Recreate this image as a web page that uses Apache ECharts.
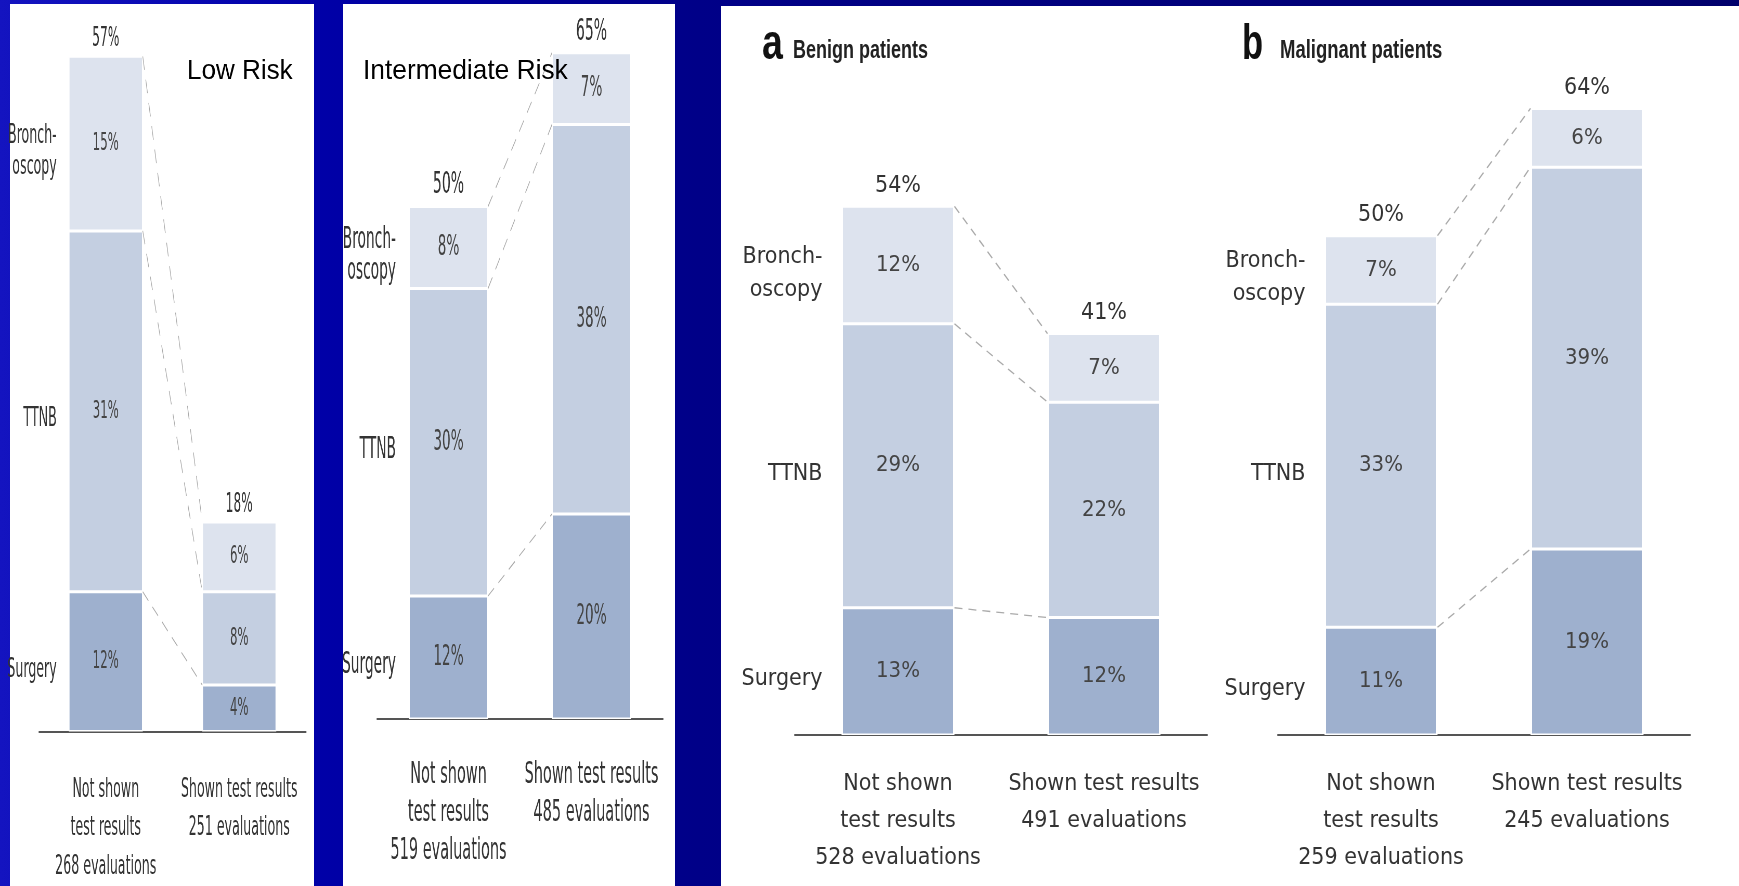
<!DOCTYPE html>
<html>
<head>
<meta charset="utf-8">
<script src="https://cdn.jsdelivr.net/npm/echarts@6/dist/echarts.min.js"></script>
<style>
  html, body { margin: 0; padding: 0; }
  #main { position: absolute; left: 0; top: 0; width: 1739px; height: 886px; }
  /* the two left figures are condensed pictures on the slide */
  #left { position: absolute; left: 0; top: 0; width: 1298px; height: 886px;
          transform: scaleX(0.52); transform-origin: 0 0; }
</style>
</head>
<body>
<div id="main"></div>
<div id="left"></div>
<script>
// row names (left of first bar)
var rowNames = ['Surgery', 'TTNB', 'Bronch-\noscopy'];

// Low Risk
var lowCats = ['Not shown\ntest results\n268 evaluations', 'Shown test results\n251 evaluations'];
var lowSurgery = [12, 4];
var lowTTNB = [31, 8];
var lowBronch = [15, 6];
var lowTotal = [57, 18];

// Intermediate Risk
var midCats = ['Not shown\ntest results\n519 evaluations', 'Shown test results\n485 evaluations'];
var midSurgery = [12, 20];
var midTTNB = [30, 38];
var midBronch = [8, 7];
var midTotal = [50, 65];

// a Benign patients
var benignCats = ['Not shown\ntest results\n528 evaluations', 'Shown test results\n491 evaluations'];
var benignSurgery = [13, 12];
var benignTTNB = [29, 22];
var benignBronch = [12, 7];
var benignTotal = [54, 41];

// b Malignant patients
var malignCats = ['Not shown\ntest results\n259 evaluations', 'Shown test results\n245 evaluations'];
var malignSurgery = [11, 19];
var malignTTNB = [33, 39];
var malignBronch = [7, 6];
var malignTotal = [50, 64];

var colors = ['#9eb0ce', '#c4cfe1', '#dde3ee'];
var narrow = "'Liberation Sans Narrow', 'DejaVu Sans Condensed', sans-serif";
var arial = "'Liberation Sans', Arial, sans-serif";
var sq = 0.52; // horizontal squeeze of the left div

// layout of each panel (left ones in un-squeezed px)
var leftPanels = [
  {cats: lowCats, segs: [lowSurgery, lowTTNB, lowBronch], tot: lowTotal,
   left: 39 / sq, width: 267 / sq, base: 732, scale: 11.65, max: 60, barW: 74 / sq,
   fs: 25, totFs: 26, catFs: 27, rowFs: 27, lh: 38.5, margin: 39, rowDist: 12 / sq, rowLh: 31, totDist: 4},
  {cats: midCats, segs: [midSurgery, midTTNB, midBronch], tot: midTotal,
   left: 377 / sq, width: 286 / sq, base: 719, scale: 10.25, max: 68, barW: 79 / sq,
   fs: 29, totFs: 30, catFs: 31, rowFs: 29.5, lh: 38, margin: 37, rowDist: 13 / sq, rowLh: 31, totDist: 6}
];
var rightPanels = [
  {cats: benignCats, segs: [benignSurgery, benignTTNB, benignBronch], tot: benignTotal,
   left: 795, width: 412, base: 735, scale: 9.79, max: 72, barW: 113,
   fs: 22, totFs: 23, catFs: 23, rowFs: 23, lh: 37, margin: 31, rowDist: 19, rowLh: 33, totDist: 9},
  {cats: malignCats, segs: [malignSurgery, malignTTNB, malignBronch], tot: malignTotal,
   left: 1278, width: 412, base: 735, scale: 9.79, max: 72, barW: 113,
   fs: 22, totFs: 23, catFs: 23, rowFs: 23, lh: 37, margin: 31, rowDist: 19, rowLh: 33, totDist: 9}
];

function connector(halfW, dash) {
  return function (params, api) {
    var p1 = api.coord([0, api.value(1)]);
    var p2 = api.coord([1, api.value(2)]);
    return {
      type: 'line',
      shape: {x1: p1[0] + halfW, y1: p1[1], x2: p2[0] - halfW, y2: p2[1]},
      style: {stroke: '#aaaaaa', lineWidth: 1.3, lineDash: dash}
    };
  };
}

function build(panels, dash) {
  var grids = [], xAxes = [], yAxes = [], series = [];
  panels.forEach(function (p, k) {
    var h = p.max * p.scale;
    grids.push({left: p.left, width: p.width, top: p.base - h, height: h});
    xAxes.push({
      type: 'category', gridIndex: k, data: p.cats,
      axisLine: {lineStyle: {color: '#555', width: 2}},
      axisTick: {show: false},
      axisLabel: {color: '#333', fontFamily: narrow, fontSize: p.catFs, lineHeight: p.lh,
                  margin: p.margin, interval: 0}
    });
    yAxes.push({type: 'value', gridIndex: k, min: 0, max: p.max, show: false});

    p.segs.forEach(function (vals, j) {
      series.push({
        type: 'bar', xAxisIndex: k, yAxisIndex: k, stack: 'main' + k,
        barWidth: p.barW, barGap: '-100%', data: vals,
        itemStyle: {color: colors[j], borderColor: '#fff', borderWidth: 1.5},
        label: {show: true, position: 'inside', color: '#444', fontFamily: narrow,
                fontSize: p.fs, formatter: '{c}%'}
      });
      // invisible copy that carries the row name left of the first bar
      series.push({
        type: 'bar', xAxisIndex: k, yAxisIndex: k, stack: 'names' + k,
        barWidth: p.barW, barGap: '-100%', data: vals, silent: true,
        itemStyle: {color: 'rgba(0,0,0,0)'},
        label: {show: true, position: 'left', distance: p.rowDist, offset: [0, 8], color: '#333',
                fontFamily: narrow, fontSize: p.rowFs, lineHeight: p.rowLh, align: 'right',
                formatter: function (q) { return q.dataIndex === 0 ? rowNames[j] : ''; }}
      });
    });

    // totals above the stacks
    series.push({
      type: 'bar', xAxisIndex: k, yAxisIndex: k, stack: 'main' + k,
      barWidth: p.barW, barGap: '-100%', data: [0, 0],
      itemStyle: {color: 'rgba(0,0,0,0)'},
      label: {show: true, position: 'top', distance: p.totDist, color: '#333',
              fontFamily: narrow, fontSize: p.totFs,
              formatter: function (q) { return p.tot[q.dataIndex] + '%'; }}
    });

    // dashed connectors between the segment tops
    var s = p.segs;
    var lv0 = [s[0][0], s[0][0] + s[1][0], s[0][0] + s[1][0] + s[2][0]];
    var lv1 = [s[0][1], s[0][1] + s[1][1], s[0][1] + s[1][1] + s[2][1]];
    series.push({
      type: 'custom', xAxisIndex: k, yAxisIndex: k, silent: true, z: 5,
      renderItem: connector(p.barW / 2, dash),
      encode: {x: 0, y: 1},
      data: lv0.map(function (v, i) { return [0, v, lv1[i]]; })
    });
  });
  return {grid: grids, xAxis: xAxes, yAxis: yAxes, series: series};
}

var mainChart = echarts.init(document.getElementById('main'));
var mainOpt = build(rightPanels, [8, 6]);
mainOpt.animation = false;
mainOpt.graphic = [
  {type: 'rect', z: -10, shape: {x: 0, y: 0, width: 1739, height: 886},
   style: {fill: new echarts.graphic.LinearGradient(0, 0, 1, 0, [
     {offset: 0, color: '#1414c0'}, {offset: 0.18, color: '#0000a8'},
     {offset: 0.4, color: '#000088'}, {offset: 1, color: '#00006c'}])}},
  {type: 'rect', z: -9, shape: {x: 10, y: 4, width: 304, height: 882}, style: {fill: '#fff'}},
  {type: 'rect', z: -9, shape: {x: 343, y: 4, width: 332, height: 882}, style: {fill: '#fff'}},
  {type: 'rect', z: -9, shape: {x: 721, y: 6, width: 1018, height: 880}, style: {fill: '#fff'}},
  {type: 'text', x: 762, y: 45, scaleX: 0.75, z: 10,
   style: {text: 'a', fill: '#111', font: 'bold 50px ' + arial, verticalAlign: 'middle'}},
  {type: 'text', x: 793, y: 51, scaleX: 0.72, z: 10,
   style: {text: 'Benign patients', fill: '#222', font: 'bold 25px ' + arial, verticalAlign: 'middle'}},
  {type: 'text', x: 1242, y: 45, scaleX: 0.69, z: 10,
   style: {text: 'b', fill: '#111', font: 'bold 50px ' + arial, verticalAlign: 'middle'}},
  {type: 'text', x: 1280, y: 51, scaleX: 0.74, z: 10,
   style: {text: 'Malignant patients', fill: '#222', font: 'bold 25px ' + arial, verticalAlign: 'middle'}}
];
mainChart.setOption(mainOpt);

var leftChart = echarts.init(document.getElementById('left'));
var leftOpt = build(leftPanels, [14, 10]);
leftOpt.animation = false;
// slide captions sit on top of the pictures, so they go in this layer (undo the squeeze)
leftOpt.graphic = [
  {type: 'text', x: 187 / sq, y: 71, scaleX: 0.93 / sq, z: 10,
   style: {text: 'Low Risk', fill: '#000', font: '28px ' + arial, verticalAlign: 'middle'}},
  {type: 'text', x: 363 / sq, y: 71, scaleX: 0.94 / sq, z: 10,
   style: {text: 'Intermediate Risk', fill: '#000', font: '28px ' + arial, verticalAlign: 'middle'}}
];
leftChart.setOption(leftOpt);
</script>
</body>
</html>
